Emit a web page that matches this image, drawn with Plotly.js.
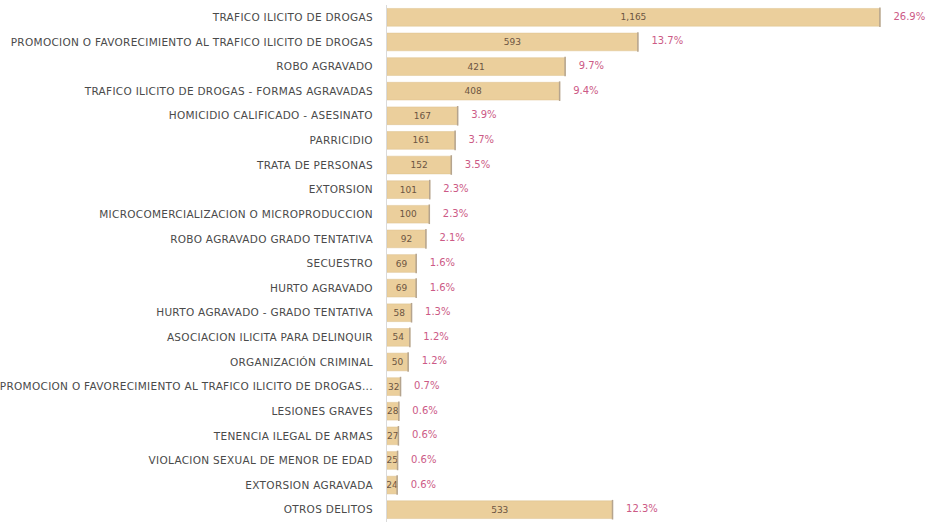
<!DOCTYPE html>
<html>
<head>
<meta charset="utf-8">
<script src="https://cdn.plot.ly/plotly-3.0.1.min.js"></script>
<style>
html,body{margin:0;padding:0;background:#fff;}
#chart{width:929px;height:523px;}
#chart .ytick text{letter-spacing:0.3px;}
</style>
</head>
<body>
<div id="chart"></div>
<script>
const categories = [
  "TRAFICO ILICITO DE DROGAS",
  "PROMOCION O FAVORECIMIENTO AL TRAFICO ILICITO DE DROGAS",
  "ROBO AGRAVADO",
  "TRAFICO ILICITO DE DROGAS - FORMAS AGRAVADAS",
  "HOMICIDIO CALIFICADO - ASESINATO",
  "PARRICIDIO",
  "TRATA DE PERSONAS",
  "EXTORSION",
  "MICROCOMERCIALIZACION O MICROPRODUCCION",
  "ROBO AGRAVADO GRADO TENTATIVA",
  "SECUESTRO",
  "HURTO AGRAVADO",
  "HURTO AGRAVADO - GRADO TENTATIVA",
  "ASOCIACION ILICITA PARA DELINQUIR",
  "ORGANIZACIÓN CRIMINAL",
  "PROMOCION O FAVORECIMIENTO AL TRAFICO ILICITO DE DROGAS...",
  "LESIONES GRAVES",
  "TENENCIA ILEGAL DE ARMAS",
  "VIOLACION SEXUAL DE MENOR DE EDAD",
  "EXTORSION AGRAVADA",
  "OTROS DELITOS"
];
const counts = [1165, 593, 421, 408, 167, 161, 152, 101, 100, 92, 69, 69, 58, 54, 50, 32, 28, 27, 25, 24, 533];
const percents = ["26.9%", "13.7%", "9.7%", "9.4%", "3.9%", "3.7%", "3.5%", "2.3%", "2.3%", "2.1%", "1.6%", "1.6%", "1.3%", "1.2%", "1.2%", "0.7%", "0.6%", "0.6%", "0.6%", "0.6%", "12.3%"];
const countLabels = counts.map(v => v.toLocaleString('en-US'));

const bars = {
  type: 'bar', orientation: 'h',
  y: categories, x: counts,
  text: countLabels, textposition: 'inside', insidetextanchor: 'middle',
  constraintext: 'none', textangle: 0,
  textfont: {family: 'DejaVu Sans, sans-serif', size: 9, color: '#6b5542'},
  marker: {color: '#ebcf9c', line: {color: '#dcc08e', width: 0.5}},
  hoverinfo: 'skip', cliponaxis: false
};
const ends = {
  type: 'scatter', mode: 'markers',
  y: categories, x: counts,
  marker: {symbol: 'line-ns', size: 14, line: {color: '#b5a48e', width: 1.5}},
  hoverinfo: 'skip', cliponaxis: false
};
const pctLabels = {
  type: 'scatter', mode: 'markers+text',
  y: categories, x: counts,
  text: percents, textposition: 'middle right',
  textfont: {family: 'DejaVu Sans, sans-serif', size: 10, color: '#cc5a86'},
  marker: {size: 20, opacity: 0, color: '#ffffff'},
  hoverinfo: 'skip', cliponaxis: false
};

const layout = {
  width: 929, height: 523,
  margin: {l: 387, r: 0, t: 5, b: 1},
  paper_bgcolor: '#ffffff', plot_bgcolor: '#ffffff',
  showlegend: false, bargap: 0.28,
  xaxis: {range: [0, 1281], showgrid: false, zeroline: false, showticklabels: false, ticks: '', showline: false},
  yaxis: {range: [20.5, -0.5], type: 'category', showline: true, linecolor: '#dadada', linewidth: 1,
          ticks: '', ticklabelstandoff: 11, showgrid: false,
          tickfont: {family: 'DejaVu Sans, sans-serif', size: 10.5, color: '#4a4a4a'}}
};
Plotly.newPlot('chart', [bars, ends, pctLabels], layout, {displayModeBar: false, staticPlot: true});
</script>
</body>
</html>
